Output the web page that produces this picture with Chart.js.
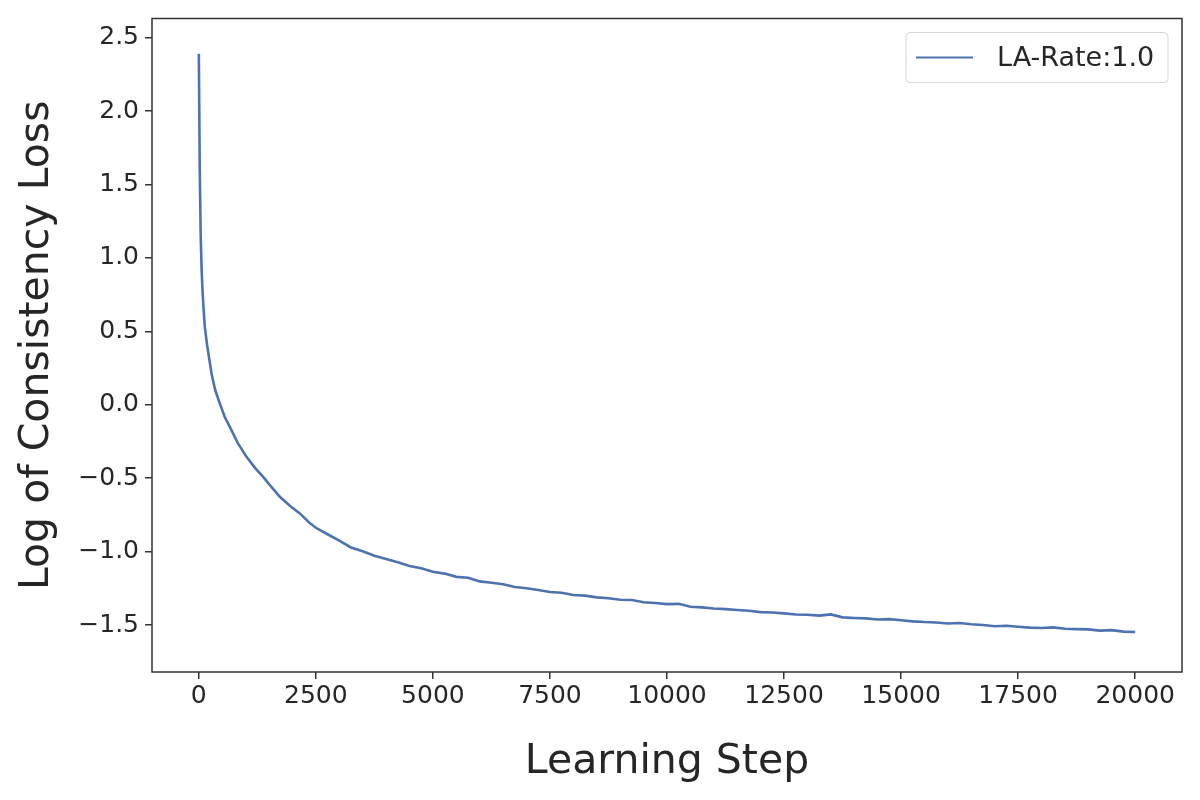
<!DOCTYPE html>
<html lang="en">
<head>
  <meta charset="UTF-8" />
  <title>Log of Consistency Loss</title>
  <script src="https://cdn.jsdelivr.net/npm/chart.js"></script>
  <style>
    body { margin: 0; background: #fff; }
    #lossChart { display: block; }
  </style>
</head>
<body>
<canvas id="lossChart" width="1200" height="800"></canvas>

<script>
// values
const steps = [
  0, 20, 40, 60, 80, 100, 128, 180, 271, 350, 449, 550, 662, 830, 1019,
  1200, 1374, 1550, 1731, 1950, 2158, 2350,
  2500, 2750, 3000, 3250, 3500, 3750, 4000, 4250, 4500, 4750, 5000, 5250,
  5500, 5750, 6000, 6250, 6500, 6750, 7000, 7250, 7500, 7750, 8000, 8250,
  8500, 8750, 9000, 9250, 9500, 9750, 10000, 10250, 10500, 10750, 11000,
  11250, 11500, 11750, 12000, 12250, 12500, 12750, 13000, 13250, 13500,
  13750, 14000, 14250, 14500, 14750, 15000, 15250, 15500, 15750, 16000,
  16250, 16500, 16750, 17000, 17250, 17500, 17750, 18000, 18250, 18500,
  18750, 19000, 19250, 19500, 19750, 20000
];
const lossLog = [
  2.39, 1.60, 1.15, 0.92, 0.77, 0.66, 0.53, 0.40, 0.212, 0.10, 0.008, -0.08,
  -0.151, -0.26, -0.355, -0.43, -0.491, -0.56, -0.627, -0.69, -0.74, -0.80,
  -0.838, -0.882, -0.925, -0.972, -0.998, -1.028, -1.05, -1.072, -1.098,
  -1.114, -1.137, -1.150, -1.172, -1.178, -1.203, -1.212, -1.222, -1.241,
  -1.250, -1.262, -1.275, -1.280, -1.296, -1.300, -1.312, -1.318, -1.328,
  -1.330, -1.345, -1.350, -1.358, -1.356, -1.376, -1.380, -1.388, -1.392,
  -1.398, -1.403, -1.412, -1.415, -1.421, -1.428, -1.430, -1.436, -1.428,
  -1.448, -1.452, -1.455, -1.462, -1.460, -1.468, -1.475, -1.480, -1.483,
  -1.490, -1.486, -1.495, -1.500, -1.508, -1.505, -1.512, -1.518, -1.520,
  -1.516, -1.525, -1.528, -1.530, -1.538, -1.535, -1.545, -1.548
];
const xTicks = [0, 2500, 5000, 7500, 10000, 12500, 15000, 17500, 20000];
const yTicks = [-1.5, -1.0, -0.5, 0.0, 0.5, 1.0, 1.5, 2.0, 2.5];
const seriesLabel = "LA-Rate:1.0";

const lineColor = "#4c72b0";
const textColor = "#262626";
const axisColor = "#333333";
const font = "'DejaVu Sans', sans-serif";

function minus(s) { return s.replace("-", "\u2212"); }

// frame around the plot + legend in the upper right corner
const framePlugin = {
  id: "frame",
  afterDraw(chart) {
    const { ctx, chartArea: a } = chart;
    ctx.save();
    ctx.strokeStyle = axisColor;
    ctx.lineWidth = 1.5;
    ctx.strokeRect(a.left, a.top, a.right - a.left, a.bottom - a.top);

    // legend box
    const w = 262, h = 50;
    const x = a.right - 14 - w, y = a.top + 14;
    ctx.beginPath();
    ctx.roundRect(x, y, w, h, 4);
    ctx.fillStyle = "rgba(255,255,255,0.8)";
    ctx.fill();
    ctx.strokeStyle = "#d6d6d6";
    ctx.lineWidth = 1;
    ctx.stroke();
    ctx.beginPath();
    ctx.moveTo(x + 10, y + h / 2);
    ctx.lineTo(x + 67, y + h / 2);
    ctx.strokeStyle = lineColor;
    ctx.lineWidth = 1.8;
    ctx.stroke();
    ctx.fillStyle = textColor;
    ctx.font = "27px " + font;
    ctx.textBaseline = "middle";
    ctx.fillText(chart.data.datasets[0].label, x + 91, y + h / 2 + 1);
    ctx.restore();
  }
};

new Chart(document.getElementById("lossChart"), {
  type: "line",
  data: {
    datasets: [{
      label: seriesLabel,
      data: steps.map((s, i) => ({ x: s, y: lossLog[i] })),
      borderColor: lineColor,
      borderWidth: 2.6,
      pointRadius: 0,
      tension: 0,
      fill: false
    }]
  },
  options: {
    responsive: false,
    animation: false,
    layout: { padding: { top: 18, right: 18, left: 0, bottom: 0 } },
    plugins: { legend: { display: false }, tooltip: { enabled: false } },
    scales: {
      x: {
        type: "linear",
        min: -1000,
        max: 21000,
        afterBuildTicks: s => { s.ticks = xTicks.map(v => ({ value: v })); },
        afterFit: s => { s.height = 128; },
        grid: { display: true, drawOnChartArea: false, drawTicks: true, tickLength: 7, color: axisColor, lineWidth: 1.5 },
        border: { display: false },
        ticks: { color: textColor, font: { family: font, size: 25 }, padding: 2, maxRotation: 0, callback: v => minus(String(v)) },
        title: { display: true, text: "Learning Step", color: textColor, font: { family: font, size: 41 }, padding: { top: 4, bottom: 13 } }
      },
      y: {
        min: -1.82,
        max: 2.63,
        afterBuildTicks: s => { s.ticks = yTicks.map(v => ({ value: v })); },
        afterFit: s => { s.width = 152; },
        grid: { display: true, drawOnChartArea: false, drawTicks: true, tickLength: 7, color: axisColor, lineWidth: 1.5 },
        border: { display: false },
        ticks: { color: textColor, font: { family: font, size: 25, lineHeight: 1 }, padding: 6, callback: v => minus(v.toFixed(1)) },
        title: { display: true, text: "Log of Consistency Loss", color: textColor, font: { family: font, size: 41 }, padding: { top: 13 } }
      }
    }
  },
  plugins: [framePlugin]
});
</script>
</body>
</html>
